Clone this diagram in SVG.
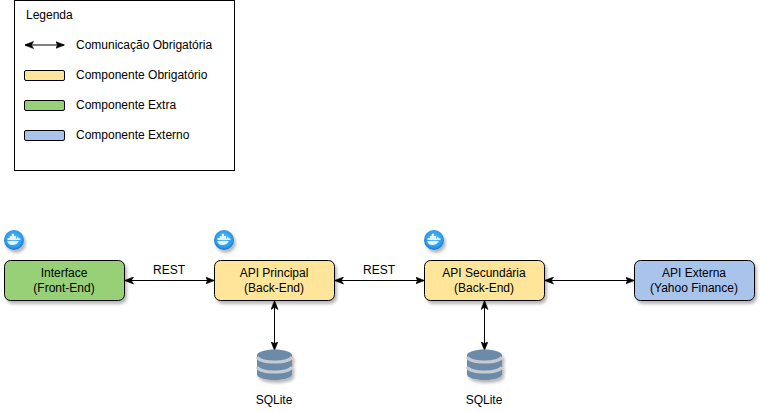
<svg xmlns="http://www.w3.org/2000/svg" width="761" height="411" viewBox="0 0 761 411">
<style>
text{font-family:"Liberation Sans",Arial,sans-serif;font-size:12px;fill:#000}
.m{text-anchor:middle}
.node{stroke:#000;stroke-width:1}
.y{fill:#ffe599}.g{fill:#97d077}.b{fill:#a9c4eb}
.c{fill:none;stroke:#000;stroke-width:1;marker-start:url(#a);marker-end:url(#a)}
.db{fill:#6d8aa8}
.band{fill:none;stroke:#c4cbd2;stroke-width:3}
</style>
<defs>
<marker id="a" viewBox="0 0 9 8" refX="8.500" refY="4" markerWidth="9" markerHeight="8" markerUnits="userSpaceOnUse" orient="auto-start-reverse"><path d="M0 0.500L9 4L0 7.500L2.200 4Z" fill="#000" stroke="#000" stroke-width=".6"/></marker>
<filter id="s" x="-10%" y="-20%" width="125%" height="150%"><feDropShadow dx="2" dy="3" stdDeviation="1.600" flood-color="#000" flood-opacity=".28"/></filter>
<radialGradient id="d" cx=".5" cy=".45" r=".55"><stop offset="0" stop-color="#5cc0fa"/><stop offset=".75" stop-color="#2d9bea"/><stop offset="1" stop-color="#1670d0"/></radialGradient>
<g id="docker"><circle cx="10" cy="10" r="10" fill="url(#d)"/><path d="M3 10H15.200C16 9.900 16.600 9.500 17 9L15.800 8.200L14.800 8.400C14.600 7.500 14.200 6.900 13.600 6.400C13.100 7 12.900 7.700 13.100 8.500H12V6H10V3.800H7.800V6H5.800V8H3.500V10ZM3.200 11C3.700 13.600 5.600 15 8.300 15C11.400 15 13.800 13.500 14.800 11Z" fill="#e4f3fd"/></g>
<g id="cyl"><path class="db" d="M0 5.500C0 2.500 8 0 17.500 0S35 2.500 35 5.500V25C35 28 27 30.500 17.500 30.500S0 28 0 25Z"/><path class="band" d="M0 7.500C1.500 10.500 9 12.500 17.500 12.500S33.500 10.500 35 7.500"/><path class="band" d="M0 17.500C1.500 20.500 9 22.500 17.500 22.500S33.500 20.500 35 17.500"/></g>
</defs>
<rect width="761" height="411" fill="#fff"/>
<g id="legend">
<rect x="14.500" y="0.500" width="220" height="170" fill="#fff" stroke="#000"/>
<text x="26" y="19">Legenda</text>
<path d="M25 45H64" class="c"/>
<text x="76" y="49">Comunicação Obrigatória</text>
<rect x="24.500" y="70.500" width="40" height="10" rx="1.500" class="node y"/>
<text x="76" y="79">Componente Obrigatório</text>
<rect x="24.500" y="100.500" width="40" height="10" rx="1.500" class="node g"/>
<text x="76" y="109">Componente Extra</text>
<rect x="24.500" y="130.500" width="40" height="10" rx="1.500" class="node b"/>
<text x="76" y="139">Componente Externo</text>
</g>
<g id="connectors">
<path d="M125 280.500H214" class="c"/>
<path d="M335 280.500H424" class="c"/>
<path d="M545 280.500H634" class="c"/>
<path d="M274.500 301V350" class="c"/>
<path d="M484.500 301V350" class="c"/>
</g>
<g id="edge-labels">
<text x="169" y="274" class="m">REST</text>
<text x="379" y="274" class="m">REST</text>
</g>
<g id="interface"><rect x="4.500" y="260.500" width="120" height="40" rx="6" class="node g" filter="url(#s)"/><text x="64" y="277" class="m">Interface</text><text x="64" y="292" class="m">(Front-End)</text></g>
<g id="api-principal"><rect x="214.500" y="260.500" width="120" height="40" rx="6" class="node y" filter="url(#s)"/><text x="274" y="277" class="m">API Principal</text><text x="274" y="292" class="m">(Back-End)</text></g>
<g id="api-secundaria"><rect x="424.500" y="260.500" width="120" height="40" rx="6" class="node y" filter="url(#s)"/><text x="484" y="277" class="m">API Secundária</text><text x="484" y="292" class="m">(Back-End)</text></g>
<g id="api-externa"><rect x="634.500" y="260.500" width="120" height="40" rx="6" class="node b" filter="url(#s)"/><text x="694" y="277" class="m">API Externa</text><text x="694" y="292" class="m">(Yahoo Finance)</text></g>
<g id="docker-1"><use href="#docker" x="4" y="230" filter="url(#s)"/></g>
<g id="docker-2"><use href="#docker" x="214" y="230" filter="url(#s)"/></g>
<g id="docker-3"><use href="#docker" x="424" y="230" filter="url(#s)"/></g>
<g id="sqlite-1"><use href="#cyl" x="257" y="349.500" filter="url(#s)"/><text x="274" y="404" class="m">SQLite</text></g>
<g id="sqlite-2"><use href="#cyl" x="467" y="349.500" filter="url(#s)"/><text x="484" y="404" class="m">SQLite</text></g>
</svg>
